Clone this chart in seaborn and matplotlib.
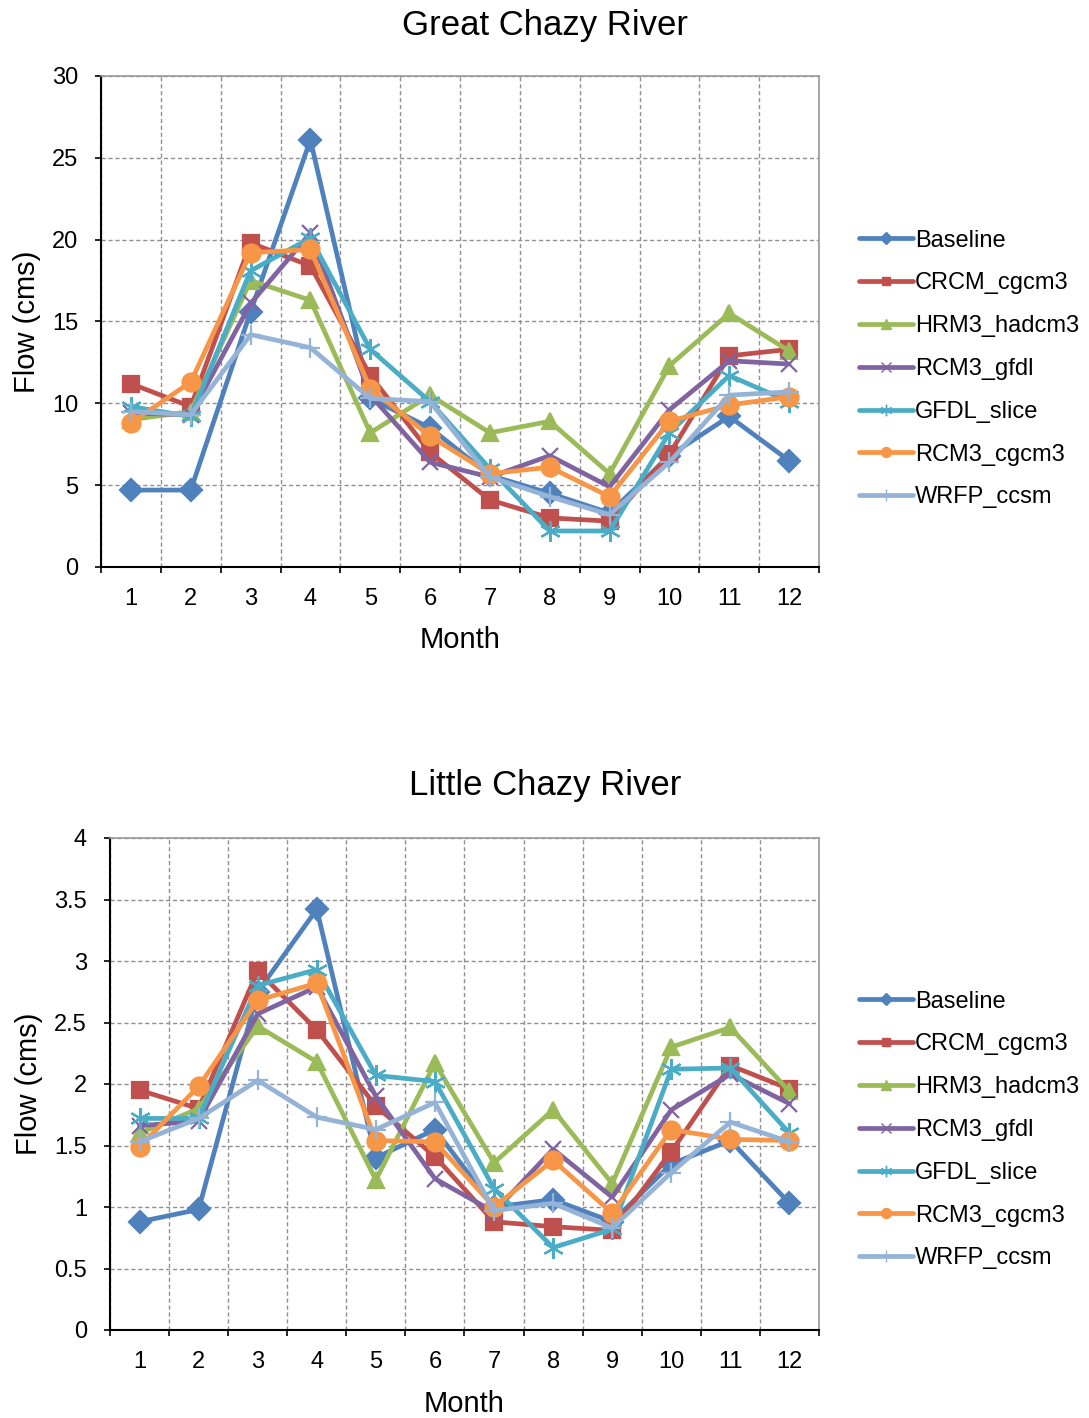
import numpy as np
import pandas as pd
import matplotlib
matplotlib.use("Agg")
import matplotlib.pyplot as plt
from matplotlib.ticker import FixedLocator, FuncFormatter
import seaborn as sns

months = list(range(1, 13))
series_names = ["Baseline", "CRCM_cgcm3", "HRM3_hadcm3", "RCM3_gfdl",
                "GFDL_slice", "RCM3_cgcm3", "WRFP_ccsm"]

# Great Chazy River flows (cms)
great_baseline = [4.7, 4.7, 15.6, 26.1, 10.3, 8.5, 5.6, 4.5, 3.3, 6.8, 9.2, 6.5]
great_crcm = [11.2, 9.8, 19.8, 18.4, 11.7, 7.0, 4.1, 3.0, 2.8, 6.9, 12.9, 13.3]
great_hrm3 = [9.0, 9.5, 17.5, 16.3, 8.2, 10.5, 8.2, 8.9, 5.7, 12.3, 15.5, 13.2]
great_rcm3_gfdl = [9.4, 9.3, 16.1, 20.4, 10.5, 6.4, 5.5, 6.8, 4.9, 9.6, 12.6, 12.4]
great_gfdl = [9.8, 9.2, 18.1, 20.1, 13.3, 10.1, 6.0, 2.2, 2.2, 8.2, 11.7, 10.1]
great_rcm3_cgcm3 = [8.8, 11.3, 19.2, 19.4, 10.9, 8.0, 5.7, 6.1, 4.3, 8.9, 9.9, 10.4]
great_wrfp = [9.5, 9.3, 14.2, 13.4, 10.3, 10.1, 5.5, 4.3, 3.2, 6.4, 10.5, 10.7]

# Little Chazy River flows (cms)
little_baseline = [0.88, 0.98, 2.75, 3.42, 1.40, 1.63, 1.00, 1.06, 0.88, 1.35, 1.54, 1.03]
little_crcm = [1.95, 1.80, 2.92, 2.44, 1.82, 1.41, 0.88, 0.84, 0.81, 1.45, 2.15, 1.96]
little_hrm3 = [1.60, 1.80, 2.47, 2.18, 1.22, 2.17, 1.36, 1.79, 1.19, 2.30, 2.46, 1.94]
little_rcm3_gfdl = [1.66, 1.70, 2.57, 2.79, 1.90, 1.23, 0.96, 1.47, 1.08, 1.79, 2.08, 1.84]
little_gfdl = [1.72, 1.72, 2.80, 2.93, 2.07, 2.02, 1.15, 0.67, 0.82, 2.12, 2.13, 1.60]
little_rcm3_cgcm3 = [1.49, 1.98, 2.68, 2.82, 1.54, 1.53, 1.00, 1.38, 0.95, 1.63, 1.55, 1.54]
little_wrfp = [1.53, 1.72, 2.03, 1.73, 1.63, 1.85, 0.97, 1.03, 0.83, 1.28, 1.69, 1.53]

great_series = [great_baseline, great_crcm, great_hrm3, great_rcm3_gfdl,
                great_gfdl, great_rcm3_cgcm3, great_wrfp]
little_series = [little_baseline, little_crcm, little_hrm3, little_rcm3_gfdl,
                 little_gfdl, little_rcm3_cgcm3, little_wrfp]

great_yticks = [0, 5, 10, 15, 20, 25, 30]
little_yticks = [0, 0.5, 1, 1.5, 2, 2.5, 3, 3.5, 4]

colors = ["#4F81BD", "#C0504D", "#9BBB59", "#8064A2", "#4BACC6", "#F79646", "#95B3D7"]
markers = ["D", "s", "^", "x", (6, 2, 0), "o", "+"]
msizes = [11, 11, 12, 12, 15, 13, 15]

sns.set_style("white")
plt.rcParams['font.family'] = ['Liberation Sans', 'DejaVu Sans']
plt.rcParams['text.color'] = 'black'
plt.rcParams['axes.labelcolor'] = 'black'
plt.rcParams['xtick.color'] = 'black'
plt.rcParams['ytick.color'] = 'black'

fig = plt.figure(figsize=(10.89, 14.18), dpi=100)
ax1 = fig.add_axes([101 / 1089, 1 - 567 / 1418, 718 / 1089, 491 / 1418])
ax2 = fig.add_axes([110 / 1089, 1 - 1330 / 1418, 709 / 1089, 492 / 1418])


def draw(ax, series, yticks, title, title_y, legend_y):
    for name, vals, c, m, ms in zip(series_names, series, colors, markers, msizes):
        df = pd.DataFrame({"Month": months, "Flow": vals})
        sns.lineplot(data=df, x="Month", y="Flow", color=c, marker=m,
                     markersize=ms, markeredgecolor=c, markerfacecolor=c,
                     markeredgewidth=1.6, linewidth=3.4, ax=ax, zorder=3)
    ax.set_xlim(0.5, 12.5)
    ax.set_ylim(yticks[0], yticks[-1])
    ax.xaxis.set_major_locator(FixedLocator(months))
    ax.xaxis.set_minor_locator(FixedLocator(np.arange(0.5, 13, 1.0)))
    ax.yaxis.set_major_locator(FixedLocator(yticks))
    ax.yaxis.set_major_formatter(FuncFormatter(lambda v, p: "%g" % v))
    ax.tick_params(axis="x", which="major", length=0, labelsize=17, pad=15)
    ax.tick_params(axis="x", which="minor", length=4.5, width=1.2, color="black",
                   direction="out", bottom=True)
    ax.tick_params(axis="y", which="major", length=4.5, width=1.2, color="black",
                   direction="out", left=True, labelsize=17, pad=12)
    ax.grid(False)
    ax.grid(True, axis="x", which="minor", linestyle=(0, (3, 2)), color="#909090", linewidth=1)
    ax.grid(True, axis="y", which="major", linestyle=(0, (3, 2)), color="#909090", linewidth=1)
    ax.set_axisbelow(True)
    for s in ["top", "right"]:
        ax.spines[s].set_color("#999999")
        ax.spines[s].set_linewidth(1.2)
    for s in ["left", "bottom"]:
        ax.spines[s].set_color("black")
        ax.spines[s].set_linewidth(1.5)
    ax.set_xlabel("Month", fontsize=21, labelpad=12)
    ax.set_ylabel("Flow (cms)", fontsize=21, labelpad=8)
    fig.text(545 / 1089, title_y, title, fontsize=25, ha="center", va="center")
    handles = [plt.Line2D([], [], color=c, marker=m, markersize=ms * 0.55,
                          markeredgecolor=c, linewidth=3.4)
               for c, m, ms in zip(colors, markers, msizes)]
    fig.legend(handles, series_names, loc="center left",
               bbox_to_anchor=(842 / 1089, legend_y), frameon=False,
               fontsize=17, handlelength=2.3, handletextpad=0.1,
               labelspacing=0.88, borderpad=0.2)


draw(ax1, great_series, great_yticks, "Great Chazy River", 1 - 25 / 1418, 1 - 369 / 1418)
draw(ax2, little_series, little_yticks, "Little Chazy River", 1 - 786 / 1418, 1 - 1130 / 1418)

fig.savefig("out.png", dpi=100)
